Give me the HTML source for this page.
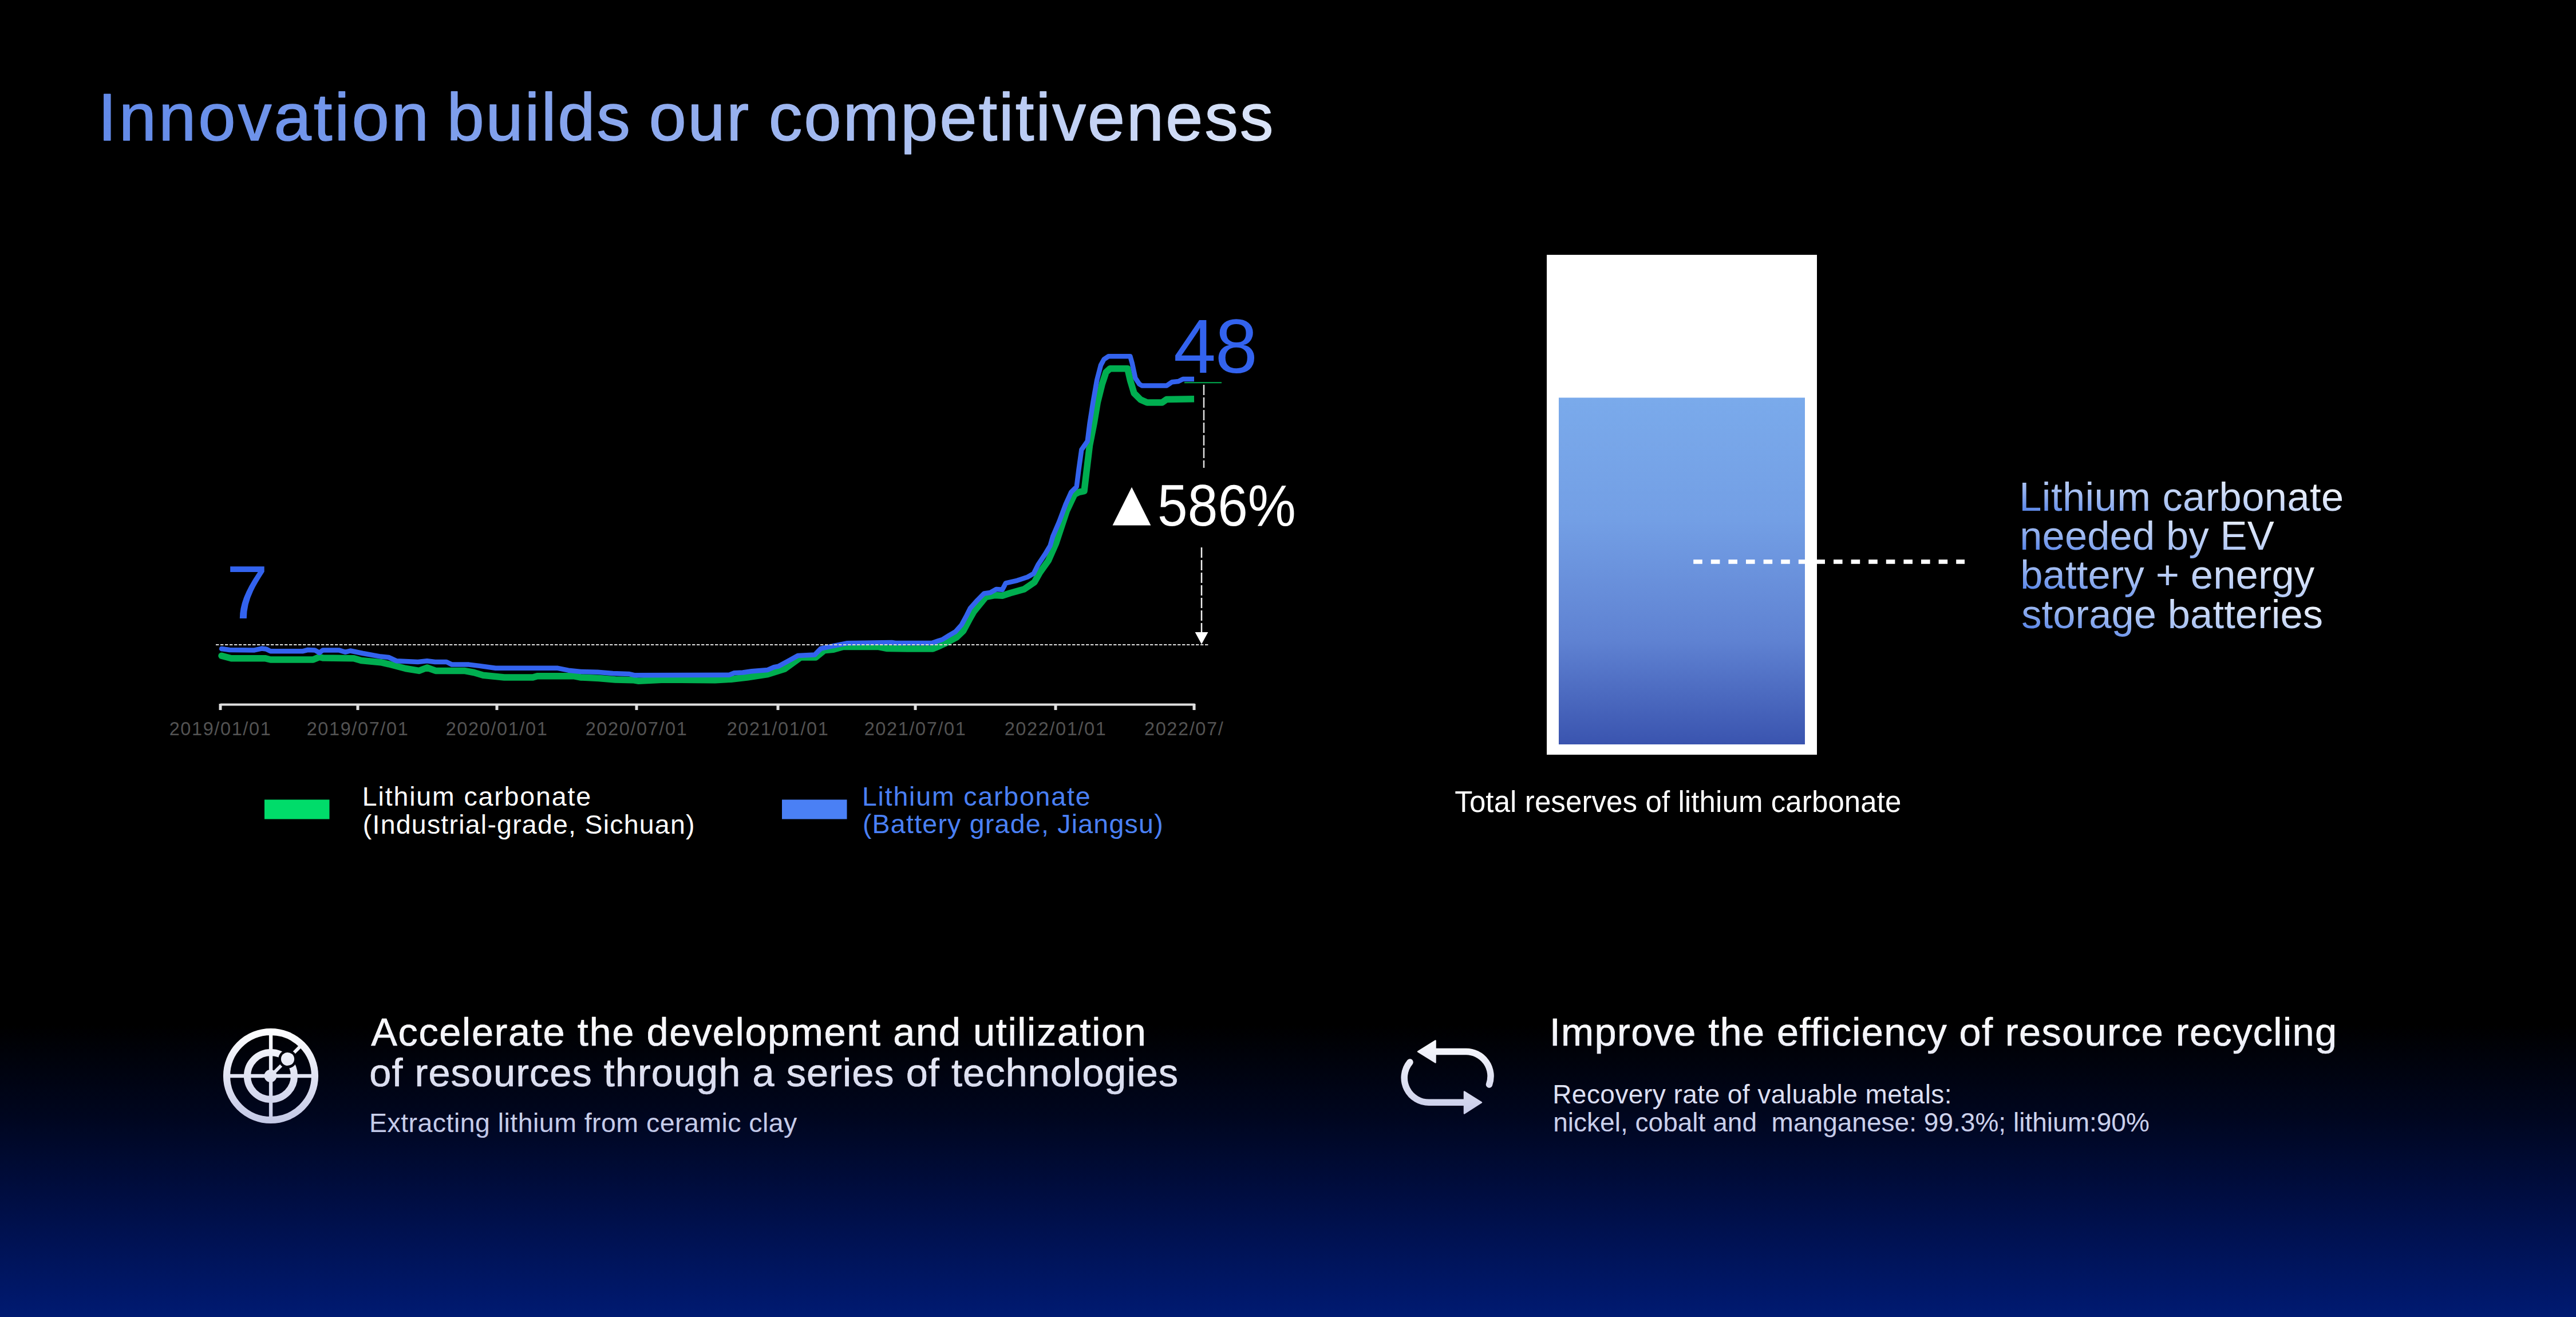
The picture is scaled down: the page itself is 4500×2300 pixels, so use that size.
<!DOCTYPE html>
<html><head><meta charset="utf-8">
<style>
html,body{margin:0;padding:0;}
body{width:4500px;height:2300px;position:relative;overflow:hidden;
 background:linear-gradient(to bottom,#000 0px,#000 1790px,#00061f 1950px,#000e44 2100px,#001a72 2300px);
 font-family:"Liberation Sans",sans-serif;}
.t{position:absolute;white-space:pre;line-height:1;margin:0;}
.gt{-webkit-background-clip:text;background-clip:text;color:transparent;}
svg{position:absolute;left:0;top:0;}
</style></head><body>
<svg width="4500" height="2300" viewBox="0 0 4500 2300">
 <defs>
  <linearGradient id="barg" x1="0" y1="0" x2="0" y2="1">
   <stop offset="0" stop-color="#7aaaeb"/>
   <stop offset="0.35" stop-color="#739fe5"/>
   <stop offset="0.7" stop-color="#5f82d2"/>
   <stop offset="1" stop-color="#3a54af"/>
  </linearGradient>
  <linearGradient id="ig1" gradientUnits="userSpaceOnUse" x1="0" y1="1796" x2="0" y2="1962">
   <stop offset="0" stop-color="#ffffff"/><stop offset="1" stop-color="#c3c8e6"/>
  </linearGradient>
  <linearGradient id="ig2" gradientUnits="userSpaceOnUse" x1="0" y1="1816" x2="0" y2="1945">
   <stop offset="0" stop-color="#f9fafd"/><stop offset="1" stop-color="#c8cce9"/>
  </linearGradient>
  <mask id="satm" maskUnits="userSpaceOnUse" x="0" y="0" width="4500" height="2300">
   <rect x="0" y="0" width="4500" height="2300" fill="#fff"/>
   <circle cx="502.5" cy="1849.5" r="16.2" fill="#000"/>
  </mask>
 </defs>
 <line x1="385" y1="1230.5" x2="2087" y2="1230.5" stroke="#dedede" stroke-width="4"/>
 <g stroke="#dedede" stroke-width="5">
  <line x1="385" y1="1229" x2="385" y2="1240"/>
  <line x1="625" y1="1229" x2="625" y2="1240"/>
  <line x1="868" y1="1229" x2="868" y2="1240"/>
  <line x1="1112" y1="1229" x2="1112" y2="1240"/>
  <line x1="1359" y1="1229" x2="1359" y2="1240"/>
  <line x1="1599" y1="1229" x2="1599" y2="1240"/>
  <line x1="1844" y1="1229" x2="1844" y2="1240"/>
  <line x1="2086" y1="1229" x2="2086" y2="1240"/>
 </g>
 <g font-family="Liberation Sans" font-size="32.5" fill="#535353" text-anchor="middle" letter-spacing="1.6">
  <text x="385" y="1283.7">2019/01/01</text>
  <text x="625" y="1283.7">2019/07/01</text>
  <text x="868" y="1283.7">2020/01/01</text>
  <text x="1112" y="1283.7">2020/07/01</text>
  <text x="1359" y="1283.7">2021/01/01</text>
  <text x="1599" y="1283.7">2021/07/01</text>
  <text x="1844" y="1283.7">2022/01/01</text>
 </g>
 <text x="1999" y="1283.7" font-family="Liberation Sans" font-size="32.5" fill="#535353" letter-spacing="1.6">2022/07/</text>
 <circle cx="387" cy="1145.3" r="5.75" fill="#00ae50"/>
 <polyline points="387,1145.3 404,1149.7 463,1149.7 472.5,1152 547,1152 558,1147.4 564,1149 618,1149.7 631,1153.6 665,1156.7 679,1159.8 708.5,1167.5 732,1171.4 746,1166 761,1171.4 811,1171.4 828,1174.5 844,1179.2 881,1183 930.8,1183 938.6,1180.7 1002,1180.7 1014.7,1183 1045.7,1184.6 1075,1187 1106,1187.7 1115.6,1189.3 1160,1187 1249,1187.7 1277,1186.2 1305,1183 1341,1177.6 1370.5,1168.3 1398.4,1148.1 1424.8,1148.1 1440,1135.7 1456,1134.2 1473,1129.5 1535,1129.5 1550,1132.6 1585.5,1133 1629.6,1133 1638.7,1129.1 1652.3,1123 1670.6,1113.2 1682.7,1101.8 1693.3,1082 1701,1068.4 1722,1042.6 1737.4,1039.6 1751,1040.3 1764.7,1035.8 1789,1029 1807,1016.8 1816.3,1000.1 1831.4,979 1844.7,948.7 1863.6,891.8 1877,863.3 1884.5,859.5 1894,857.6 1897.8,825.4 1903.5,778 1911,740 1917.3,702.5 1925.3,670.6 1932.1,650.1 1939,643.8 1969.7,643.8 1974.3,663.8 1981.1,686.6 1992.5,698 2003.9,703 2030,703 2038,697.4 2086,696.8" fill="none" stroke="#00ae50" stroke-width="11.5" stroke-linejoin="round" stroke-linecap="butt"/>
 <circle cx="387" cy="1133" r="4.25" fill="#3363ee"/>
 <polyline points="387,1133 401,1135 444.5,1135.4 457,1132.6 464.7,1133.4 472.5,1137.3 528.4,1137.3 537.7,1135 550,1135.4 558,1140 564,1135.4 592,1135.4 603,1138.8 612,1136.5 634,1141 665,1146.6 679,1148 693,1154.3 730,1155.9 746,1154.3 760,1156 780,1156 789.5,1160.6 819,1160.6 837.6,1162.9 865.6,1166.8 974.3,1166.8 993,1170.7 1014.7,1173 1044,1173.8 1070.6,1176 1098.5,1176.9 1108,1179.2 1274,1178.7 1282,1175.3 1297.5,1174.5 1313,1172.2 1341,1169.9 1352,1165.2 1359.6,1163.7 1379.8,1152.8 1393.8,1145 1423.3,1143.5 1434,1132.6 1452.8,1128.7 1479,1123.3 1558,1122 1564,1123 1628,1123 1638.7,1119.3 1646,1117 1658.4,1109.4 1669,1103.3 1679.7,1091.2 1688.8,1074.5 1694.8,1062.3 1707,1048.7 1719,1036.5 1729.8,1035 1740.4,1029 1751,1029.7 1757,1018.3 1776.8,1013.8 1795,1007.7 1805.7,1001.6 1813.3,986.4 1825.4,968.2 1834.5,953 1839,937.3 1850.4,910.8 1861.7,880.4 1871.2,859.5 1880.7,850 1884.5,819.7 1889.3,785.5 1899.7,770.4 1903.5,740 1909.4,702.5 1916.2,663.8 1923,637.6 1928.7,627.3 1936.7,622.2 1974.3,622.2 1977.7,634.2 1983.4,660.4 1990.2,670.6 1994.8,673.5 2038,673.5 2047.2,667.2 2058.6,666 2066.5,662 2086,662" fill="none" stroke="#3363ee" stroke-width="8.5" stroke-linejoin="round" stroke-linecap="butt"/>
 <line x1="377" y1="1126" x2="2111" y2="1126" stroke="#dcdcdc" stroke-width="2" stroke-dasharray="5.4 2.6"/>
 <line x1="2069" y1="668.3" x2="2134" y2="668.3" stroke="#00ae50" stroke-width="2"/>
 <line x1="2103" y1="672" x2="2103" y2="817" stroke="#e0e0e0" stroke-width="2.5" stroke-dasharray="18 4"/>
 <line x1="2099" y1="956" x2="2099" y2="1106" stroke="#f0f0f0" stroke-width="2.5" stroke-dasharray="18 4"/>
 <polygon points="2087.6,1104 2110.4,1104 2099,1125" fill="#fff"/>
 <polygon points="1943.5,917.6 2010.4,917.6 1977,850.8" fill="#fff"/>
 <rect x="2702" y="445" width="472" height="873" fill="#fff"/>
 <rect x="2723" y="694.5" width="430" height="605.5" fill="url(#barg)"/>
 <line x1="2958.2" y1="981" x2="3432" y2="981" stroke="#fff" stroke-width="7.7" stroke-dasharray="15.6 15"/>
 <rect x="462" y="1396.5" width="113.5" height="34" fill="#00dc6a"/>
 <rect x="1366" y="1396.5" width="113.5" height="34" fill="#4a80f5"/>
 <g stroke="url(#ig1)" fill="none">
  <circle cx="473" cy="1879" r="77" stroke-width="12.2"/>
  <g mask="url(#satm)">
   <circle cx="473" cy="1879" r="41" stroke-width="12.2"/>
   <line x1="473" y1="1879" x2="523.6" y2="1828.4" stroke-width="5.8"/>
  </g>
  <line x1="473.1" y1="1808" x2="473.1" y2="1950" stroke-width="6.4"/>
  <line x1="402" y1="1879" x2="544" y2="1879" stroke-width="6.5"/>
 </g>
 <circle cx="472.5" cy="1879" r="11" fill="url(#ig1)"/>
 <circle cx="502.5" cy="1849.5" r="11.6" fill="url(#ig1)"/>
 <g fill="url(#ig2)" stroke="url(#ig2)" stroke-linejoin="round">
  <path d="M2507 1836.5 H2561 A43 43 0 0 1 2601.5 1894" fill="none" stroke-width="11.5" stroke-linecap="round"/>
  <polygon points="2477,1836.5 2507.5,1817.5 2507.5,1855.5" stroke-width="2.5"/>
  <path d="M2558 1925.3 H2498 A43 43 0 0 1 2463 1855" fill="none" stroke-width="11.5" stroke-linecap="round"/>
  <polygon points="2588,1925.3 2558,1906.5 2558,1944.5" stroke-width="2.5"/>
 </g>
</svg>
<svg width="4500" height="2300" viewBox="0 0 4500 2300" font-family="Liberation Sans" style="white-space:pre">
 <defs>
  <linearGradient id="gtitle" gradientUnits="userSpaceOnUse" x1="182" y1="0" x2="2222" y2="0">
   <stop offset="0" stop-color="#628ae9"/><stop offset="0.48" stop-color="#8eaaee"/><stop offset="1" stop-color="#dae4f8"/>
  </linearGradient>
  <linearGradient id="gneed0" gradientUnits="userSpaceOnUse" x1="3535" y1="891.7" x2="3558" y2="754.7">
   <stop offset="0" stop-color="#5a86e8"/><stop offset="0.35" stop-color="#a8c1f3"/><stop offset="1" stop-color="#ffffff"/>
  </linearGradient>
  <linearGradient id="gneed1" gradientUnits="userSpaceOnUse" x1="3535" y1="959.6" x2="3558" y2="822.6">
   <stop offset="0" stop-color="#5a86e8"/><stop offset="0.35" stop-color="#a8c1f3"/><stop offset="1" stop-color="#ffffff"/>
  </linearGradient>
  <linearGradient id="gneed2" gradientUnits="userSpaceOnUse" x1="3535" y1="1028.2" x2="3558" y2="891.2">
   <stop offset="0" stop-color="#5a86e8"/><stop offset="0.35" stop-color="#a8c1f3"/><stop offset="1" stop-color="#ffffff"/>
  </linearGradient>
  <linearGradient id="gneed3" gradientUnits="userSpaceOnUse" x1="3535" y1="1096.8" x2="3558" y2="959.8">
   <stop offset="0" stop-color="#5a86e8"/><stop offset="0.35" stop-color="#a8c1f3"/><stop offset="1" stop-color="#ffffff"/>
  </linearGradient>
  <linearGradient id="gacc" gradientUnits="userSpaceOnUse" x1="0" y1="1776" x2="0" y2="1912">
   <stop offset="0" stop-color="#ffffff"/><stop offset="1" stop-color="#d3d7ed"/>
  </linearGradient>
  <linearGradient id="gimp" gradientUnits="userSpaceOnUse" x1="0" y1="1776" x2="0" y2="1850">
   <stop offset="0" stop-color="#ffffff"/><stop offset="1" stop-color="#e4e7f4"/>
  </linearGradient>
  <linearGradient id="grec" gradientUnits="userSpaceOnUse" x1="0" y1="1893" x2="0" y2="1988">
   <stop offset="0" stop-color="#e3e6f5"/><stop offset="1" stop-color="#c0c7e7"/>
  </linearGradient>
  <linearGradient id="gext" gradientUnits="userSpaceOnUse" x1="0" y1="1942" x2="0" y2="1988">
   <stop offset="0" stop-color="#ccd2ec"/><stop offset="1" stop-color="#bcc3e5"/>
  </linearGradient>
 </defs>
 <text x="171.0" y="245" font-size="117.5" letter-spacing="3.99" fill="url(#gtitle)" stroke="url(#gtitle)" stroke-width="1.5" stroke-linejoin="round">Innovation</text>
 <text x="780.5" y="245" font-size="117.5" letter-spacing="2.7" fill="url(#gtitle)" stroke="url(#gtitle)" stroke-width="1.5" stroke-linejoin="round">builds</text>
 <text x="1133.5" y="245" font-size="117.5" letter-spacing="2.4" fill="url(#gtitle)" stroke="url(#gtitle)" stroke-width="1.5" stroke-linejoin="round">our</text>
 <text x="1342.7" y="245" font-size="117.5" letter-spacing="2.81" fill="url(#gtitle)" stroke="url(#gtitle)" stroke-width="1.5" stroke-linejoin="round">competitiveness</text>
 <text x="632.8" y="1407" font-size="46.5" letter-spacing="1.85" fill="#ffffff">Lithium carbonate</text>
 <text x="633.8" y="1456" font-size="46.5" letter-spacing="1.22" fill="#ffffff">(Industrial-grade, Sichuan)</text>
 <text x="1505.9" y="1407.3" font-size="46.5" letter-spacing="1.81" fill="#4a80f5">Lithium carbonate</text>
 <text x="1506.9" y="1454.6" font-size="46.5" letter-spacing="1.24" fill="#4a80f5">(Battery grade, Jiangsu)</text>
 <text x="2541.3" y="1417.9" font-size="51" letter-spacing="0.1" fill="#ffffff">Total reserves of lithium carbonate</text>
 <text x="3527.2" y="891.7" font-size="70.5" letter-spacing="0.42" fill="url(#gneed0)">Lithium carbonate</text>
 <text x="3528.2" y="959.6" font-size="70.5" letter-spacing="0.15" fill="url(#gneed1)">needed by EV</text>
 <text x="3529.2" y="1028.2" font-size="70.5" letter-spacing="0.17" fill="url(#gneed2)">battery + energy</text>
 <text x="3531.2" y="1096.8" font-size="70.5" letter-spacing="0.11" fill="url(#gneed3)">storage batteries</text>
 <text x="648.3" y="1826.4" font-size="68.5" letter-spacing="1.62" fill="url(#gacc)" stroke="url(#gacc)" stroke-width="0.7" stroke-linejoin="round">Accelerate the development and utilization</text>
 <text x="645.3" y="1897.1" font-size="68.5" letter-spacing="1.04" fill="url(#gacc)" stroke="url(#gacc)" stroke-width="0.7" stroke-linejoin="round">of resources through a series of technologies</text>
 <text x="645.0" y="1976.8" font-size="46.5" letter-spacing="0.46" fill="url(#gext)">Extracting lithium from ceramic clay</text>
 <text x="2706.7" y="1826.4" font-size="68.5" letter-spacing="1.38" fill="url(#gimp)" stroke="url(#gimp)" stroke-width="0.7" stroke-linejoin="round">Improve the efficiency of resource recycling</text>
 <text x="2712.2" y="1926.8" font-size="46" letter-spacing="0.46" fill="url(#grec)">Recovery rate of valuable metals:</text>
 <text x="2713.2" y="1975.6" font-size="46" letter-spacing="0.02" fill="url(#grec)">nickel, cobalt and &#160;manganese: 99.3%; lithium:90%</text>
 <text transform="translate(395.6 1080) scale(1 1)" font-size="130.9" letter-spacing="0" fill="#3363ee">7</text>
 <text transform="translate(2050 651) scale(1 1)" font-size="133.2" letter-spacing="-1.2" fill="#3363ee">48</text>
 <text transform="translate(2022.1 917.9) scale(0.928 1)" font-size="101.8" letter-spacing="0" fill="#ffffff">586%</text>
</svg>
</body></html>
